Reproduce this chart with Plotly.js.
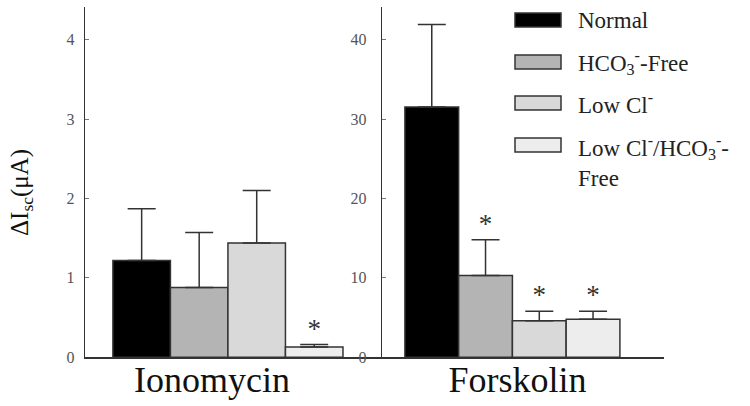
<!DOCTYPE html>
<html>
<head>
<meta charset="utf-8">
<script src="https://cdn.plot.ly/plotly-3.0.1.min.js"></script>
<style>html,body{margin:0;padding:0;background:#fff;}#chart{width:750px;height:406px;}</style>
</head>
<body>
<div id="chart"></div>
<script>
// ---- data ----
const categories = ['Ionomycin', 'Forskolin'];
const seriesNames = ['Normal', 'HCO<sub>3</sub><sup>-</sup>-Free', 'Low Cl<sup>-</sup>', 'Low Cl<sup>-</sup>/HCO<sub>3</sub><sup>-</sup>-<br>Free'];
const ionomycinMeans = [1.22, 0.88, 1.44, 0.13];
const ionomycinErr = [0.65, 0.69, 0.66, 0.03];
const forskolinMeans = [31.5, 10.3, 4.6, 4.8];
const forskolinErr = [10.4, 4.5, 1.2, 1.0];
const ionomycinSig = [false, false, false, true];
const forskolinSig = [false, true, true, true];
const yTicksLeft = [0, 1, 2, 3, 4];
const yTicksRight = [0, 10, 20, 30, 40];
const yTitle = 'ΔI<sub>sc</sub>(μA)';

// ---- styles ----
const fills = ['#000000', '#b4b4b4', '#d9d9d9', '#ededed'];
const outline = '#333333';
const serif = 'Liberation Serif, Times New Roman, serif';
const W = 750, H = 406;

const traces = [];
const panels = [
  {cat: categories[0], means: ionomycinMeans, err: ionomycinErr, sig: ionomycinSig, xa: 'x', ya: 'y'},
  {cat: categories[1], means: forskolinMeans, err: forskolinErr, sig: forskolinSig, xa: 'x2', ya: 'y2'}
];
panels.forEach(p => {
  for (let i = 0; i < seriesNames.length; i++) {
    traces.push({
      type: 'bar', x: [p.cat], y: [p.means[i]], xaxis: p.xa, yaxis: p.ya,
      name: seriesNames[i], showlegend: false, offsetgroup: String(i),
      marker: {color: fills[i], line: {color: outline, width: 1.5}},
      error_y: {type: 'data', symmetric: false, array: [p.err[i]], arrayminus: [0],
                color: outline, thickness: 1.5, width: 14},
      hoverinfo: 'skip'
    });
  }
  for (let i = 0; i < seriesNames.length; i++) {
    traces.push({
      type: 'scatter', mode: 'text', x: [p.cat],
      y: [p.sig[i] ? p.means[i] + p.err[i] : null],
      text: ['*'], textposition: 'top center',
      textfont: {family: serif, size: 27, color: '#333'},
      xaxis: p.xa, yaxis: p.ya, offsetgroup: String(i), showlegend: false, hoverinfo: 'skip'
    });
  }
});

// legend (manual, wide swatches)
const shapes = [], annotations = [];
const legendRows = [20, 62, 103, 145];
seriesNames.forEach((n, i) => {
  const yc = legendRows[i];
  shapes.push({type: 'rect', xref: 'paper', yref: 'paper',
    x0: 515 / W, x1: 561 / W, y0: 1 - (yc + 7) / H, y1: 1 - (yc - 7) / H,
    fillcolor: fills[i], line: {color: outline, width: 1.5}});
  const multi = n.indexOf('<br>') >= 0;
  annotations.push({xref: 'paper', yref: 'paper', x: 576 / W,
    y: multi ? 1 - (yc - 15) / H : 1 - yc / H,
    xanchor: 'left', yanchor: multi ? 'top' : 'middle', align: 'left',
    text: n, showarrow: false, font: {family: serif, size: 23, color: '#222'}});
});
annotations.push({xref: 'paper', yref: 'paper', x: 22 / W, y: 1 - 193 / H,
  xanchor: 'center', yanchor: 'middle', textangle: -90, text: yTitle, showarrow: false,
  font: {family: serif, size: 25, color: '#111'}});

const yDom = [1 - 357.3 / H, 1 - 7 / H];
const axisCommon = {showgrid: false, zeroline: false, showline: true, linecolor: outline, linewidth: 1.5};
const layout = {
  width: W, height: H, margin: {l: 0, r: 0, t: 0, b: 0},
  paper_bgcolor: '#fff', plot_bgcolor: 'rgba(0,0,0,0)',
  barmode: 'group', bargap: 0.2, scattermode: 'group', scattergap: 0.2,
  showlegend: false,
  xaxis: Object.assign({}, axisCommon, {domain: [85.3 / W, 370 / W], range: [-0.496, 0.494],
    anchor: 'y', ticks: '', ticklabelshift: -16, ticklabelstandoff: -10,
    tickfont: {family: serif, size: 36, color: '#111'}}),
  yaxis: Object.assign({}, axisCommon, {domain: yDom, range: [0, 4.41], anchor: 'x',
    tickvals: yTicksLeft, ticks: 'inside', ticklen: 4, tickcolor: '#777',
    ticklabelstandoff: 6, tickfont: {family: serif, size: 16, color: '#555'}}),
  xaxis2: Object.assign({}, axisCommon, {domain: [367 / W, 664 / W], range: [-0.541, 0.564],
    anchor: 'y2', ticks: '', ticklabelshift: 5, ticklabelstandoff: -10,
    tickfont: {family: serif, size: 36, color: '#111'}}),
  yaxis2: Object.assign({}, axisCommon, {domain: yDom, range: [0, 44.1], anchor: 'free',
    position: 380.7 / W, tickvals: yTicksRight, ticks: 'inside', ticklen: 4, tickcolor: '#777',
    ticklabelstandoff: 11, tickfont: {family: serif, size: 16, color: '#555'}}),
  shapes: shapes, annotations: annotations
};

Plotly.newPlot('chart', traces, layout, {staticPlot: true, displayModeBar: false});
</script>
</body>
</html>
